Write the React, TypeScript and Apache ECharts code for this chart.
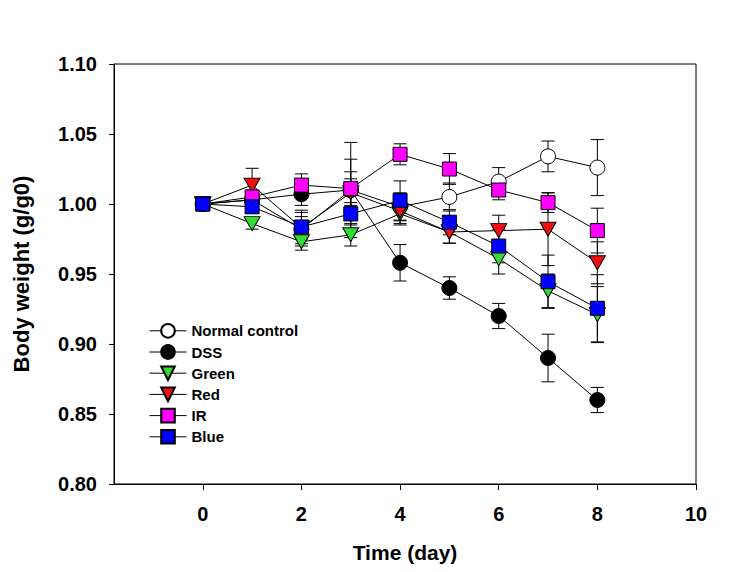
import React, { useEffect, useRef } from "react";
import * as echarts from "echarts";

const days = [0, 1, 2, 3, 4, 5, 6, 7, 8];
const xTickValues = [0, 2, 4, 6, 8, 10];

const normalMean = [1.0, 1.003, 0.982, 1.01, 0.998, 1.005, 1.016, 1.034, 1.026];
const normalSd = [0, 0.004, 0.012, 0.034, 0.01, 0.01, 0.01, 0.011, 0.02];
const dssMean = [1.0, 1.003, 1.007, 1.01, 0.958, 0.94, 0.92, 0.89, 0.86];
const dssSd = [0, 0.005, 0.008, 0.022, 0.013, 0.008, 0.009, 0.017, 0.009];
const greenMean = [1.0, 0.986, 0.973, 0.978, 0.993, 0.98, 0.961, 0.938, 0.921];
const greenSd = [0, 0.004, 0.006, 0.008, 0.007, 0.008, 0.011, 0.012, 0.02];
const redMean = [1.0, 1.0135, 0.983, 1.008, 0.995, 0.98, 0.981, 0.982, 0.958];
const redSd = [0, 0.012, 0.008, 0.01, 0.01, 0.008, 0.011, 0.026, 0.015];
const irMean = [1.0, 1.005, 1.0135, 1.011, 1.0355, 1.025, 1.01, 1.001, 0.981];
const irSd = [0, 0.005, 0.008, 0.012, 0.0075, 0.011, 0.007, 0.007, 0.016];
const blueMean = [1.0, 0.998, 0.9836, 0.993, 1.0025, 0.987, 0.97, 0.9445, 0.9255];
const blueSd = [0, 0.004, 0.012, 0.008, 0.014, 0.009, 0.012, 0.019, 0.024];

const groupNames = ["Normal control", "DSS", "Green", "Red", "IR", "Blue"];
const groupMeans = [normalMean, dssMean, greenMean, redMean, irMean, blueMean];
const groupSds = [normalSd, dssSd, greenSd, redSd, irSd, blueSd];
const groupColors = ["#FFFFFF", "#000000", "#33DD33", "#EE1111", "#FF00FF", "#0000FF"];
const groupSymbols = ["circle", "circle", "triangle", "triangle", "rect", "rect"];

const FONT = "'Liberation Sans', Arial, sans-serif";

export default function App() {
  const ref = useRef<HTMLDivElement>(null);
  useEffect(() => {
    if (!ref.current) return;
    document.body.style.margin = "0";
    const chart = echarts.init(ref.current, null, { renderer: "svg" });
    const series: any[] = [];
    groupNames.forEach((name, i) => {
      series.push({
        name: name + " line",
        type: "line",
        data: days.map((d, k) => [d, groupMeans[i][k]]),
        symbol: "none",
        lineStyle: { color: "#000", width: 1 },
        z: 2,
        silent: true,
      });
    });
    groupNames.forEach((name, i) => {
      series.push({
        name: name + " err",
        type: "custom",
        z: 3,
        silent: true,
        data: days.map((d, k) => [d, groupMeans[i][k], groupSds[i][k]]),
        encode: { x: 0, y: 1 },
        renderItem: (params: any, api: any) => {
          const x = api.value(0);
          const y = api.value(1);
          const e = api.value(2);
          if (!e) return null;
          const p = api.coord([x, y + e]);
          const q = api.coord([x, y - e]);
          const w = 6.5;
          const st = { stroke: "#000", lineWidth: 1 };
          return {
            type: "group",
            children: [
              { type: "line", shape: { x1: p[0], y1: p[1], x2: q[0], y2: q[1] }, style: st },
              { type: "line", shape: { x1: p[0] - w, y1: p[1], x2: p[0] + w, y2: p[1] }, style: st },
              { type: "line", shape: { x1: q[0] - w, y1: q[1], x2: q[0] + w, y2: q[1] }, style: st },
            ],
          };
        },
      });
    });
    groupNames.forEach((name, i) => {
      const sym = groupSymbols[i];
      series.push({
        name,
        type: "line",
        data: days.map((d, k) => [d, groupMeans[i][k]]),
        symbol: sym,
        symbolSize: sym === "triangle" ? [16, 14] : sym === "rect" ? 14 : 15,
        symbolRotate: sym === "triangle" ? 180 : 0,
        showAllSymbol: true,
        lineStyle: { width: 0, opacity: 0 },
        itemStyle: { color: groupColors[i], borderColor: "#000", borderWidth: 1 },
        z: 4 + i,
      });
    });
    chart.setOption({
      animation: false,
      backgroundColor: "#fff",
      grid: {
        left: 114,
        right: 34,
        top: 64,
        bottom: 88,
        show: true,
        borderColor: "#000",
        borderWidth: 1,
      },
      legend: {
        orient: "vertical",
        left: 144,
        top: 318,
        itemWidth: 37,
        itemHeight: 17,
        itemGap: 5.6,
        data: groupNames,
        textStyle: { fontSize: 15, fontWeight: "bold", fontFamily: FONT, color: "#000" },
        lineStyle: { color: "#000", width: 1, opacity: 1, type: "solid" },
      },
      xAxis: {
        type: "value",
        min: -1.8,
        max: 10,
        name: "Time (day)",
        nameLocation: "middle",
        nameGap: 58,
        nameTextStyle: { fontSize: 21, fontWeight: "bold", fontFamily: FONT, color: "#000" },
        axisLine: { onZero: false, lineStyle: { color: "#000", width: 1 } },
        axisTick: { customValues: xTickValues, length: 6, lineStyle: { color: "#000" } },
        axisLabel: {
          customValues: xTickValues,
          margin: 20,
          fontSize: 20,
          fontWeight: "bold",
          fontFamily: FONT,
          color: "#000",
        },
        splitLine: { show: false },
      },
      yAxis: {
        type: "value",
        min: 0.8,
        max: 1.1,
        interval: 0.05,
        name: "Body weight (g/g0)",
        nameLocation: "middle",
        nameGap: 82,
        nameTextStyle: { fontSize: 22, fontWeight: "bold", fontFamily: FONT, color: "#000" },
        axisLine: { onZero: false, lineStyle: { color: "#000", width: 1 } },
        axisTick: { length: 5, lineStyle: { color: "#000" } },
        axisLabel: {
          margin: 17,
          fontSize: 20,
          fontWeight: "bold",
          fontFamily: FONT,
          color: "#000",
          formatter: (v: number) => v.toFixed(2),
        },
        splitLine: { show: false },
      },
      series,
    });
    return () => chart.dispose();
  }, []);
  return <div ref={ref} style={{ width: 730, height: 572 }} />;
}
